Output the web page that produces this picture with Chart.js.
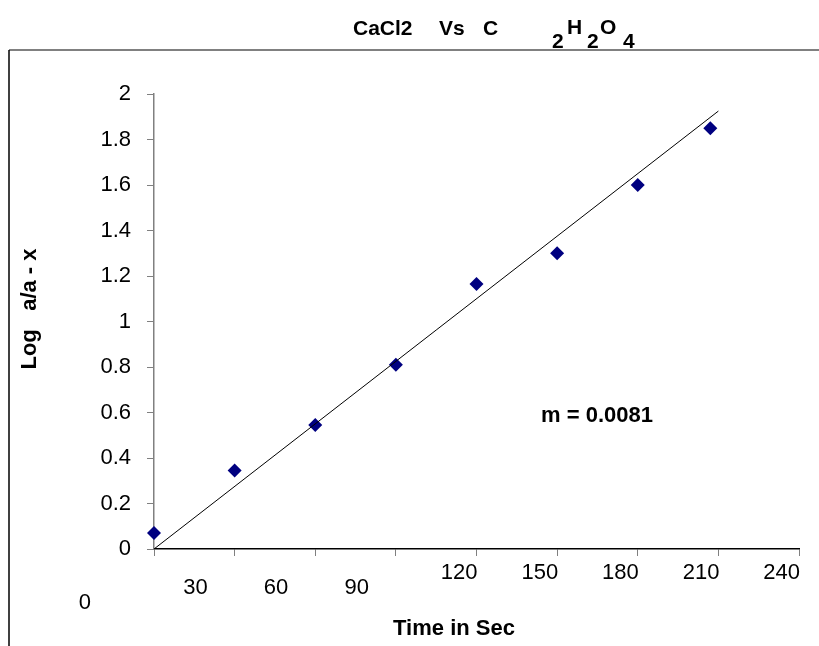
<!DOCTYPE html>
<html>
<head>
<meta charset="utf-8">
<script src="https://cdn.jsdelivr.net/npm/chart.js@4.4.0/dist/chart.umd.min.js"></script>
<style>
  body { margin: 0; background: #fff; }
  canvas { display: block; }
</style>
</head>
<body>
<canvas id="chart" width="819" height="646"></canvas>
<script>
// datos
const timeSec = [0, 30, 60, 90, 120, 150, 180, 207];
const logValues = [0.07, 0.345, 0.545, 0.81, 1.165, 1.30, 1.60, 1.85];
const trendX = [0, 210];
const trendY = [0, 1.925];
const xTickLabels = ['0', '30', '60', '90', '120', '150', '180', '210', '240'];
const yTickLabels = ['0', '0.2', '0.4', '0.6', '0.8', '1', '1.2', '1.4', '1.6', '1.8', '2'];
const slopeText = 'm = 0.0081';

const FONT = '"Liberation Sans", Arial, sans-serif';

// marco, titulos y etiquetas del eje x (excel las dibuja desplazadas)
const decorPlugin = {
  id: 'decor',
  beforeDraw(chart) {
    const ctx = chart.ctx;
    ctx.save();
    ctx.fillStyle = '#fff';
    ctx.fillRect(0, 0, chart.width, chart.height);
    ctx.strokeStyle = '#808080';
    ctx.lineWidth = 2;
    ctx.beginPath();
    ctx.moveTo(9, 50);
    ctx.lineTo(chart.width, 50);
    ctx.stroke();
    ctx.strokeStyle = '#000';
    ctx.lineWidth = 1.5;
    ctx.beginPath();
    ctx.moveTo(9, 50);
    ctx.lineTo(9, chart.height);
    ctx.stroke();
    ctx.restore();
  },
  afterDraw(chart) {
    const ctx = chart.ctx;
    const xs = chart.scales.x;
    ctx.save();
    ctx.fillStyle = '#000';

    // titulo con subindices
    ctx.font = 'bold 21px ' + FONT;
    ctx.textAlign = 'left';
    ctx.textBaseline = 'alphabetic';
    const parts = [
      ['CaCl2', 353, 35], ['Vs', 439, 35], ['C', 483, 35],
      ['2', 552, 48], ['H', 567, 34], ['2', 587, 48], ['O', 600, 34], ['4', 623, 48]
    ];
    parts.forEach(p => ctx.fillText(p[0], p[1], p[2]));

    // etiquetas del eje x
    ctx.font = '22px ' + FONT;
    ctx.textAlign = 'right';
    ctx.textBaseline = 'middle';
    xTickLabels.forEach((lbl, i) => {
      const px = xs.getPixelForValue(Number(lbl));
      let dx = 1, py = 573;
      if (i === 0) { dx = -63; py = 603; }
      else if (i < 4) { dx = -27; py = 588; }
      ctx.fillText(lbl, px + dx, py);
    });

    // titulos de ejes
    ctx.font = 'bold 22px ' + FONT;
    ctx.textAlign = 'center';
    ctx.fillText('Time in Sec', 454, 629);
    ctx.save();
    ctx.translate(30, 309);
    ctx.rotate(-Math.PI / 2);
    ctx.fillText('Log   a/a - x', 0, 0);
    ctx.restore();

    // pendiente
    ctx.font = 'bold 22px ' + FONT;
    ctx.fillText(slopeText, 597, 416);
    ctx.restore();
  }
};

new Chart(document.getElementById('chart'), {
  type: 'scatter',
  data: {
    datasets: [
      {
        label: 'tendencia',
        data: trendX.map((x, i) => ({ x: x, y: trendY[i] })),
        showLine: true,
        borderColor: '#000',
        borderWidth: 1,
        pointRadius: 0,
        order: 0,
        clip: false
      },
      {
        label: 'datos',
        data: timeSec.map((x, i) => ({ x: x, y: logValues[i] })),
        pointStyle: 'rectRot',
        pointRadius: 7,
        backgroundColor: '#000080',
        borderColor: '#000080',
        borderWidth: 0,
        order: 1,
        clip: false
      }
    ]
  },
  options: {
    responsive: false,
    animation: false,
    layout: { padding: { left: 0, top: 94, right: 20, bottom: 0 } },
    plugins: { legend: { display: false }, tooltip: { enabled: false } },
    scales: {
      x: {
        type: 'linear',
        min: 0,
        max: 240,
        ticks: { stepSize: 30, display: false },
        grid: { drawOnChartArea: false, tickLength: 7, tickColor: '#808080' },
        border: { color: '#000', width: 1.5 },
        afterFit(scale) { scale.height = 97; }
      },
      y: {
        min: 0,
        max: 2,
        ticks: {
          stepSize: 0.2,
          padding: 16,
          color: '#000',
          font: { family: FONT, size: 22 },
          callback: (v, i) => yTickLabels[i]
        },
        grid: { drawOnChartArea: false, tickLength: 7, tickColor: '#808080' },
        border: { color: '#808080', width: 1.5 },
        afterFit(scale) { scale.width = 154; }
      }
    }
  },
  plugins: [decorPlugin]
});
</script>
</body>
</html>
